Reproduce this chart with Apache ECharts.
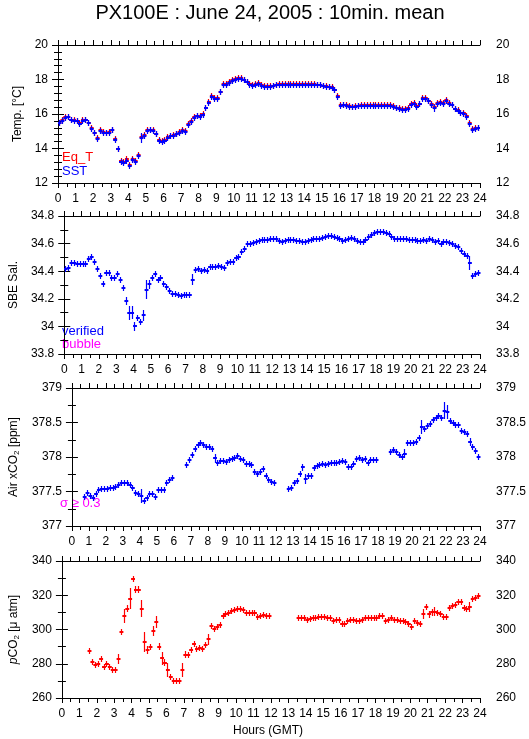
<!DOCTYPE html>
<html>
<head>
<meta charset="utf-8">
<script src="https://cdn.jsdelivr.net/npm/echarts@6/dist/echarts.min.js"></script>
<style>
  html, body { margin: 0; padding: 0; background: #fff; }
  #chart { width: 529px; height: 739px; }
</style>
</head>
<body>
<div id="chart"></div>
<script>
// 10 minute bins, 144 per day; bin i starts at i/6 hours
var hourTicks = [0, 24, 1]

var eqT = [
  15.48, 15.63, 15.8, 15.83, 15.68, 15.65,
  15.6, 15.45, 15.63, 15.68, 15.5, 15.2,
  14.92, 14.6, 15.08, 14.95, 14.92, 14.95,
  15.08, 14.55, 14.0, 13.25, 13.22, 13.38,
  13.05, 13.37, 13.28, 13.62, 14.68, 14.77,
  15.05, 15.1, 15.05, 14.85, 14.5, 14.42,
  14.5, 14.65, 14.73, 14.78, 14.85, 14.95,
  15.05, 15.0, 15.4, 15.6, 15.83, 15.9,
  15.87, 15.98, 16.37, 16.68, 17.03, 16.92,
  16.92, 17.29, 17.73, 17.73, 17.83, 17.97,
  18.02, 18.08, 18.08, 17.98, 17.88, 17.73,
  17.67, 17.73, 17.77, 17.67, 17.62, 17.6,
  17.6, 17.65, 17.7, 17.72, 17.72, 17.73,
  17.74, 17.74, 17.74, 17.74, 17.74, 17.74,
  17.72, 17.72, 17.72, 17.72, 17.71, 17.7,
  17.65, 17.6, 17.57, 17.55, 17.42, 17.05,
  16.53, 16.55, 16.5, 16.45, 16.42, 16.45,
  16.48, 16.5, 16.5, 16.5, 16.5, 16.5,
  16.52, 16.52, 16.5, 16.5, 16.5, 16.5,
  16.45, 16.37, 16.35, 16.3, 16.28, 16.33,
  16.58, 16.62, 16.47, 16.6, 16.92, 16.92,
  16.77, 16.57, 16.4, 16.62, 16.68, 16.63,
  16.8, 16.63, 16.53, 16.3, 16.22, 16.07,
  16.03, 15.87, 15.47, 15.13, 15.17, 15.19
]

var sst = [
  15.45, 15.58, 15.77, 15.8, 15.65, 15.62,
  15.57, 15.42, 15.6, 15.64, 15.47, 15.15,
  14.88, 14.56, 15.04, 14.92, 14.9, 14.92,
  15.05, 14.5, 13.95, 13.2, 13.18, 13.3,
  12.98, 13.33, 13.24, 13.58, 14.6, 14.73,
  15.02, 15.07, 15.02, 14.82, 14.45, 14.38,
  14.46, 14.62, 14.7, 14.75, 14.82, 14.92,
  15.02, 14.97, 15.35, 15.55, 15.78, 15.86,
  15.83, 15.95, 16.33, 16.63, 16.98, 16.88,
  16.88, 17.25, 17.7, 17.7, 17.8, 17.94,
  17.99, 18.05, 18.05, 17.95, 17.85, 17.7,
  17.63, 17.7, 17.74, 17.64, 17.58, 17.57,
  17.57, 17.62, 17.67, 17.69, 17.69, 17.7,
  17.71, 17.71, 17.71, 17.71, 17.71, 17.71,
  17.69, 17.69, 17.69, 17.69, 17.68, 17.67,
  17.62, 17.57, 17.54, 17.52, 17.38, 17.0,
  16.49, 16.51, 16.47, 16.42, 16.39, 16.42,
  16.45, 16.47, 16.47, 16.47, 16.47, 16.47,
  16.49, 16.49, 16.47, 16.47, 16.47, 16.47,
  16.42, 16.33, 16.31, 16.26, 16.25, 16.3,
  16.55, 16.58, 16.43, 16.57, 16.89, 16.88,
  16.74, 16.53, 16.34, 16.58, 16.65, 16.6,
  16.77, 16.6, 16.5, 16.27, 16.19, 16.03,
  15.99, 15.83, 15.43, 15.08, 15.13, 15.16
]

var salinity = [
  34.417, 34.422, 34.458, 34.458, 34.451, 34.451,
  34.451, 34.449, 34.487, 34.506, 34.467, 34.417,
  34.366, 34.308, 34.39, 34.39, 34.352, 34.352,
  34.381, 34.337, 34.277, 34.186, 34.096, 34.1,
  34.0, 34.06, 34.029, 34.08, 34.265, 34.304,
  34.349, 34.381, 34.333, 34.349, 34.304, 34.284,
  34.253, 34.236, 34.236, 34.226, 34.217, 34.229,
  34.229, 34.229, 34.337, 34.41, 34.415, 34.402,
  34.41, 34.402, 34.429, 34.434, 34.434, 34.439,
  34.434, 34.422, 34.458, 34.465, 34.47, 34.494,
  34.501, 34.537, 34.561, 34.598, 34.598, 34.602,
  34.615, 34.62, 34.625, 34.625, 34.628, 34.63,
  34.63, 34.63, 34.62, 34.615, 34.62, 34.625,
  34.625, 34.625, 34.62, 34.62, 34.615, 34.615,
  34.62, 34.625, 34.63, 34.635, 34.635, 34.64,
  34.645, 34.655, 34.655, 34.65, 34.64, 34.63,
  34.62, 34.625, 34.63, 34.64, 34.635, 34.62,
  34.61, 34.61, 34.625, 34.645, 34.665, 34.675,
  34.685, 34.685, 34.685, 34.68, 34.67, 34.645,
  34.635, 34.63, 34.632, 34.632, 34.63, 34.628,
  34.625, 34.625, 34.62, 34.618, 34.628, 34.62,
  34.635, 34.628, 34.61, 34.622, 34.595, 34.612,
  34.612, 34.605, 34.6, 34.582, 34.575, 34.545,
  34.528, 34.508, 34.46, 34.368, 34.38, 34.388
]

var airCO2 = [
  null, null, null, null, 377.42, 377.48,
  377.43, 377.41, 377.47, 377.52, 377.53, 377.53,
  377.53, 377.55, 377.55, 377.56, 377.6, 377.63,
  377.63, 377.62, 377.6, 377.55, 377.48, 377.47,
  377.43, 377.36, 377.4, 377.47, 377.46, 377.42,
  377.52, 377.52, 377.52, 377.62, 377.66, 377.69,
  null, null, null, null, 377.89, 377.95,
  378.03, 378.12, 378.17, 378.2, 378.18, 378.14,
  378.14, 378.12, 377.98, 377.92, 377.94, 377.94,
  377.93, 377.95, 377.97, 377.98, 378.02, 377.97,
  377.95, 377.9, 377.9, 377.88, 377.78, 377.75,
  377.78, 377.82, 377.73, 377.66, 377.64, 377.63,
  null, null, null, null, 377.53, 377.55,
  377.63, 377.65, 377.75, 377.85, 377.68, 377.73,
  377.73, 377.84, 377.87, 377.88, 377.9, 377.88,
  377.9, 377.91, 377.92, 377.92, 377.93, 377.94,
  377.93, 377.85, 377.85, 377.9, 377.97, 377.98,
  377.95, 377.97, 377.92, 377.96, 377.95, 377.96,
  null, null, null, null, 378.07, 378.1,
  378.07, 378.03, 378.0, 378.05, 378.2, 378.2,
  378.2, 378.22, 378.27, 378.43, 378.4, 378.45,
  378.48, 378.54, 378.57, 378.6, 378.57, 378.67,
  378.65, 378.52, 378.5, 378.46, 378.46, 378.37,
  378.36, 378.33, 378.22, 378.15, 378.08, 378.0
]

var pCO2 = [
  null, null, null, null, null, null,
  null, null, null, 287.4, 280.8, 279.2,
  279.8, 282.7, 277.9, 279.6, 278.3, 276.3,
  276.3, 282.7, 298.6, 308, 312.2, 318.1,
  329.7, 323.3, 323.3, 312.2, 292.8, 288,
  289.5, 299, 304.5, 289.9, 283.1, 280.6,
  276.3, 272, 270.1, 270.1, 270.1, 276.3,
  285.4, 285.4, 288.3, 291.3, 288.9, 289.3,
  288.5, 290.9, 294.2, 301.9, 300.2, 301.2,
  302.5, 307.8, 308.9, 309.7, 310.7, 311.3,
  311.7, 311.7, 311.3, 309.9, 309.9, 309.7,
  309.9, 307.4, 307.8, 308.2, 307.8, 307.8,
  null, null, null, null, null, null,
  null, null, null, 306.5, 307, 307,
  305.5, 306, 306.5, 307, 307.5, 307.5,
  307.5, 307, 307, 305, 305.5, 305.5,
  303, 303, 305, 305.5, 305.5, 305,
  304.8, 305.5, 307, 307, 306.5, 306.5,
  306.5, 308, 308, 305, 305.5, 307,
  305.5, 305.5, 305, 305, 304.5, 303.5,
  301.5, 305, 304, 303.5, 309, 313,
  309, 310, 310.5, 309.5, 309, 307.5,
  307.5, 312.5, 314, 314.5, 316, 316,
  312.5, 312, 313, 318, 318.5, 319.5
]

// [bin, half range] where the spread is larger than the plain cross
var eqTErr = [[28, 0.15]]
var sstErr = [[20, 0.06], [21, 0.1], [22, 0.12], [24, 0.12], [25, 0.08], [27, 0.1], [28, 0.3],
  [51, 0.1], [55, 0.1], [95, 0.12], [127, 0.1], [128, 0.2], [129, 0.15], [140, 0.15]]
var salErr = [[21, 0.03], [22, 0.05], [23, 0.05], [24, 0.03], [25, 0.02], [27, 0.04], [28, 0.07],
  [29, 0.03], [31, 0.02], [44, 0.04], [62, 0.02], [140, 0.05]]
var airErr = [[5, 0.04], [9, 0.04], [22, 0.04], [24, 0.1], [25, 0.04], [50, 0.06], [58, 0.04],
  [81, 0.05], [82, 0.07], [83, 0.04], [84, 0.04], [117, 0.07], [123, 0.1], [131, 0.12],
  [132, 0.1], [140, 0.06]]
var pco2Err = [[19, 3], [20, 1.5], [21, 4], [22, 2], [23, 6], [25, 2], [26, 2], [27, 5], [28, 6],
  [29, 2.5], [31, 3], [32, 3.5], [33, 2], [34, 4], [35, 2], [36, 4], [41, 4], [42, 2], [50, 3],
  [51, 1.5], [124, 3], [126, 2], [127, 2], [128, 2.5], [140, 3]]

// y ranges: [min, max, interval, minor splits]
var tempRange = [12, 20, 2, 5]
var salRange = [33.8, 34.8, 0.2, 2]
var airRange = [377, 379, 0.5, 2]
var pco2Range = [260, 340, 20, 2]

var FONT = 'Liberation Sans, Helvetica, Arial, sans-serif'

function toData(values, errs) {
  var e = {}
  errs.forEach(function (p) { e[p[0]] = p[1] })
  var out = []
  values.forEach(function (v, i) {
    if (v === null) return
    out.push([i / 6, v, e[i] || 0])
  })
  return out
}

function renderCross(params, api) {
  var x = api.value(0), y = api.value(1), e = api.value(2)
  var a = api.coord([x, y])
  var b = api.coord([x + 1 / 6, y])
  var yy = Math.round(a[1])
  var mid = Math.floor((a[0] + b[0]) / 2) + 0.5
  var top = Math.round(Math.min(api.coord([x, y + e])[1], yy - 3))
  var bot = Math.round(Math.max(api.coord([x, y - e])[1], yy + 3))
  var color = api.visual('color')
  return {
    type: 'group',
    children: [
      { type: 'line', shape: { x1: a[0] - 0.5, y1: yy, x2: b[0] + 0.5, y2: yy }, style: { stroke: color, lineWidth: 2 } },
      { type: 'line', shape: { x1: mid, y1: top, x2: mid, y2: bot }, style: { stroke: color, lineWidth: 1.2 } }
    ]
  }
}

var axisLine = { lineStyle: { color: '#000', width: 1 } }
var labelStyle = { color: '#000', fontSize: 12, fontFamily: FONT }

function xAxes(g) {
  return ['bottom', 'top'].map(function (pos) {
    return {
      gridIndex: g, type: 'value', position: pos,
      min: hourTicks[0], max: hourTicks[1], interval: hourTicks[2],
      axisLine: axisLine,
      axisTick: { length: 5, lineStyle: { color: '#000' } },
      minorTick: { show: true, splitNumber: 2, length: 4, lineStyle: { color: '#000' } },
      axisLabel: pos === 'bottom' ? Object.assign({ margin: 10 }, labelStyle) : { show: false },
      splitLine: { show: false }
    }
  })
}

function yAxes(g, r, name, gap) {
  return ['left', 'right'].map(function (pos) {
    var ax = {
      gridIndex: g, type: 'value', position: pos,
      min: r[0], max: r[1], interval: r[2],
      axisLine: axisLine,
      axisTick: { length: 6, lineStyle: { color: '#000' } },
      minorTick: { show: true, splitNumber: r[3], length: 4, lineStyle: { color: '#000' } },
      axisLabel: Object.assign({ margin: pos === 'left' ? 10 : 16 }, labelStyle),
      splitLine: { show: false }
    }
    if (pos === 'left') {
      ax.name = name
      ax.nameLocation = 'middle'
      ax.nameGap = gap
      ax.nameTextStyle = {
        color: '#000', fontSize: 12, fontFamily: FONT,
        rich: {
          s: { fontSize: 8, color: '#000', fontFamily: FONT, padding: [6, 0, 0, 0] },
          i: { fontSize: 12, color: '#000', fontFamily: FONT, fontStyle: 'italic' }
        }
      }
    }
    return ax
  })
}

function crossSeries(g, name, color, data) {
  return {
    name: name, type: 'custom', xAxisIndex: g * 2, yAxisIndex: g * 2,
    renderItem: renderCross, itemStyle: { color: color },
    encode: { x: 0, y: 1 }, data: data, clip: true
  }
}

var chart = echarts.init(document.getElementById('chart'))

var tops = [45, 216, 388, 561]
var heights = [138, 138, 138, 137]

var option = {
  animation: false,
  backgroundColor: '#fff',
  grid: tops.map(function (t, i) {
    return { left: 58, right: 49, top: t, height: heights[i] }
  }),
  xAxis: [].concat(xAxes(0), xAxes(1), xAxes(2), xAxes(3)),
  yAxis: [].concat(
    yAxes(0, tempRange, 'Temp. [°C]', 24),
    yAxes(1, salRange, 'SBE Sal.', 39),
    yAxes(2, airRange, 'Air xCO{s|2} [ppm]', 47),
    yAxes(3, pco2Range, '{i|p}CO{s|2} [μ atm]', 39)
  ),
  series: [
    crossSeries(0, 'Eq_T', '#ff0000', toData(eqT, eqTErr)),
    crossSeries(0, 'SST', '#0000ff', toData(sst, sstErr)),
    crossSeries(1, 'verified', '#0000ff', toData(salinity, salErr)),
    crossSeries(2, 'Air xCO2', '#0000ff', toData(airCO2, airErr)),
    crossSeries(3, 'pCO2', '#ff0000', toData(pCO2, pco2Err))
  ],
  graphic: [
    { type: 'text', x: 270, y: 13, style: { text: 'PX100E : June 24, 2005 : 10min. mean', fill: '#000', font: '20px ' + FONT, textAlign: 'center', textVerticalAlign: 'middle' } },
    { type: 'text', x: 62, y: 151, style: { text: 'Eq_T', fill: '#ff0000', font: '13px ' + FONT } },
    { type: 'text', x: 62, y: 165, style: { text: 'SST', fill: '#0000ff', font: '13px ' + FONT } },
    { type: 'text', x: 62, y: 325, style: { text: 'verified', fill: '#0000ff', font: '13px ' + FONT } },
    { type: 'text', x: 62, y: 338, style: { text: 'bubble', fill: '#ff00ff', font: '13px ' + FONT } },
    { type: 'text', x: 60, y: 497, style: { text: 'σ ≥ 0.3', fill: '#ff00ff', font: '13px ' + FONT } },
    { type: 'text', x: 268, y: 731, style: { text: 'Hours (GMT)', fill: '#000', font: '12px ' + FONT, textAlign: 'center', textVerticalAlign: 'middle' } }
  ]
}

chart.setOption(option)
</script>
</body>
</html>
